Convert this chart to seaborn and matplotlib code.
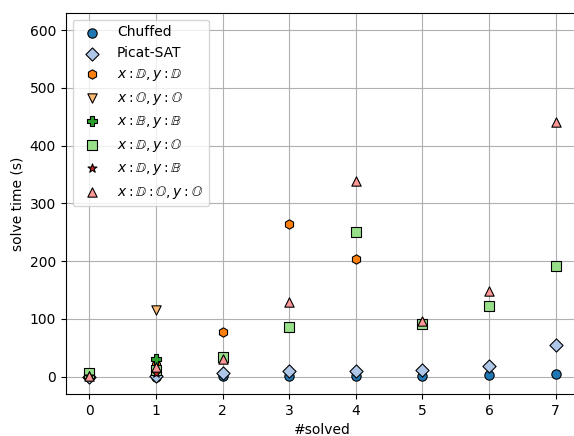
import matplotlib
matplotlib.use("Agg")
import matplotlib.pyplot as plt
import seaborn as sns
import pandas as pd

# solve times (s) per series, indexed by #solved
chuffed = [0.2, 0.3, 0.4, 0.4, 0.6, 0.6, 3, 5]
picat_sat = [0.3, 0.5, 6, 9, 9, 11, 19, 54]
xD_yD = [3, 20, 77, 264, 204]
xO_yO = [1, 116]
xB_yB = [4, 31]
xD_yO = [7, 12, 34, 86, 251, 91, 123, 191]
xD_yB = [2, 6]
xDO_yO = [1.5, 16, 30, 129, 339, 96, 149, 440]

labels = [
    "Chuffed",
    "Picat-SAT",
    r"$x:\mathbb{D},y:\mathbb{D}$",
    r"$x:\mathbb{O},y:\mathbb{O}$",
    r"$x:\mathbb{B},y:\mathbb{B}$",
    r"$x:\mathbb{D},y:\mathbb{O}$",
    r"$x:\mathbb{D},y:\mathbb{B}$",
    r"$x:\mathbb{D}:\mathbb{O},y:\mathbb{O}$",
]
series = [chuffed, picat_sat, xD_yD, xO_yO, xB_yB, xD_yO, xD_yB, xDO_yO]
markers = ["o", "D", "h", "v", "P", "s", "*", "^"]
colors = sns.color_palette("tab20", 8)

rows = []
for lab, vals in zip(labels, series):
    for i, v in enumerate(vals):
        rows.append({"series": lab, "solved": i, "time": v})
df = pd.DataFrame(rows)

fig = plt.figure(figsize=(5.74, 4.36), dpi=100)
ax = fig.add_axes([0.1145, 0.0963, 0.8947, 0.8745])

for lab, mk, col in zip(labels, markers, colors):
    sub = df[df["series"] == lab]
    sns.scatterplot(data=sub, x="solved", y="time", ax=ax, label=lab,
                    marker=mk, color=col, s=45, edgecolor="black",
                    linewidth=0.8, zorder=3)

ax.set_xlim(-0.354, 7.354)
ax.set_ylim(-30, 630)
ax.set_xticks(range(8))
ax.set_yticks(range(0, 601, 100))
ax.grid(True, color="#b0b0b0", linewidth=0.8)
ax.set_axisbelow(True)
ax.set_xlabel("#solved")
ax.set_ylabel("solve time (s)")
ax.legend(loc="upper left")

fig.savefig("out.png", dpi=100)
